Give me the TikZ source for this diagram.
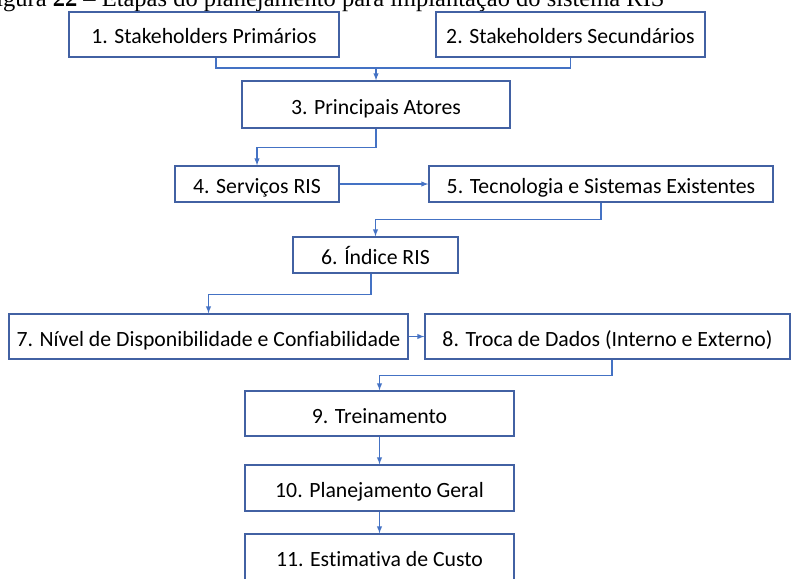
\documentclass[tikz,border=0pt]{standalone}
\usepackage{fontspec}
\setmainfont{Carlito}[Ligatures=NoCommon]
\newfontfamily\capfont{Liberation Serif}
\usetikzlibrary{arrows,calc}
\definecolor{BoxClr}{rgb}{0.26,0.38,0.64}
\definecolor{LinkClr}{rgb}{0.2667,0.4471,0.7686}

\begin{document}
\begin{tikzpicture}[x=1pt,y=-1pt,>=latex,
  stage/.style={draw=BoxClr,line width=1.3pt,fill=white,inner sep=0pt,
    minimum width=269,minimum height=45,text height=19pt,text depth=0pt,
    font=\fontsize{21.75}{26}\selectfont},
  link/.style={draw=LinkClr,line width=1.4pt,->}]
\useasboundingbox (0,0) rectangle (791,578);

\node[anchor=base east,font=\capfont\fontsize{24.5}{29}\selectfont] (cap) at (668,7)
  {Figura \textbf{22} – Etapas do planejamento para implantação do sistema RIS};

\node[stage,minimum width=270] (s1) at (204,34.5) {1. Stakeholders Primários};
\node[stage] (s2) at (570.5,34.5) {2. Stakeholders Secundários};
\node[stage,minimum width=268,minimum height=47] (s3) at (376,104.5) {3. Principais Atores};
\node[stage,minimum width=164,minimum height=36] (s4) at (257,184) {4. Serviços RIS};
\node[stage,minimum width=344,minimum height=36] (s5) at (601,184) {5. Tecnologia e Sistemas Existentes};
\node[stage,minimum width=165,minimum height=36] (s6) at (375.5,255) {6. Índice RIS};
\node[stage,minimum width=399] (s7) at (208.5,336.5) {7. Nível de Disponibilidade e Confiabilidade};
\node[stage,minimum width=365] (s8) at (607.5,336.5) {8. Troca de Dados (Interno e Externo)};
\node[stage] (s9) at (379.5,413.5) {9. Treinamento};
\node[stage,minimum height=46] (s10) at (379.5,488) {10. Planejamento Geral};
\node[stage,minimum height=46] (s11) at (379.5,557) {11. Estimativa de Custo};

% 1 and 2 join above 3
\coordinate (j12) at (376,68);
\draw[link,-] ([xshift=12pt]s1.south) |- (j12);
\draw[link,-] (s2.south) |- (j12);
\draw[link] (j12) -- (s3.north);

\draw[link] (s3.south) -- ++(0,19) -| (s4.north);
\draw[link] (s4.east) -- (s5.west);
\draw[link] (s5.south) -- ++(0,17) -| (s6.north);
\draw[link] ([xshift=-4.5pt]s6.south) -- ++(0,21) -| (s7.north);
\draw[link] (s7.east) -- (s8.west);
\draw[link] ([xshift=4.5pt]s8.south) -- ++(0,16) -| (s9.north);
\draw[link] (s9.south) -- (s10.north);
\draw[link] (s10.south) -- (s11.north);

\end{tikzpicture}
\end{document}
